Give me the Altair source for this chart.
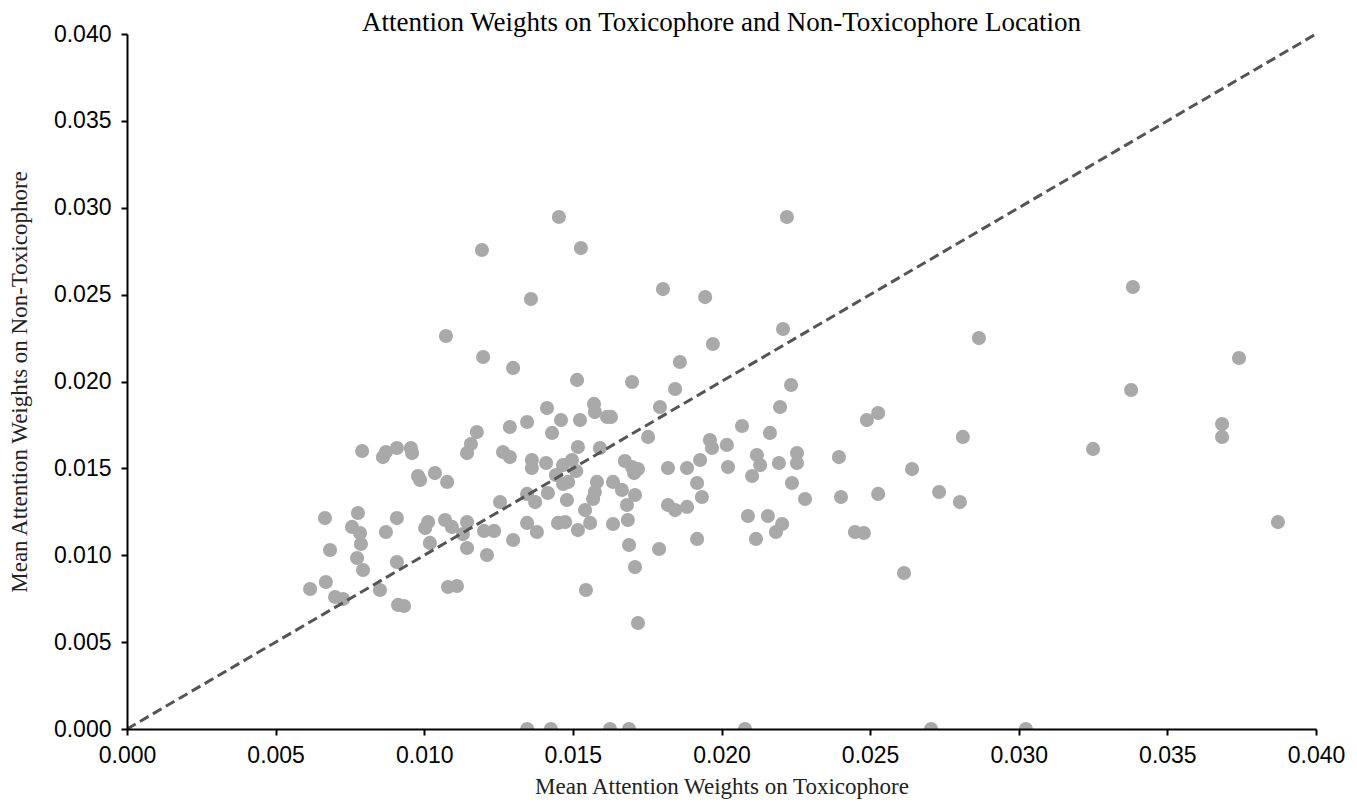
import altair as alt
import pandas as pd

# Mean attention weight on toxicophore atoms (x) and on non-toxicophore atoms (y)
tox = [
    0.01453, 0.02220, 0.01194, 0.01527, 0.01803, 0.01945, 0.01359, 0.03384, 0.01073, 0.01198,
    0.02207, 0.02866, 0.01971, 0.01860, 0.01299, 0.03741, 0.01514, 0.01699, 0.02234, 0.01844,
    0.03378, 0.01413, 0.01571, 0.01574, 0.01615, 0.01628, 0.01793, 0.02197, 0.02527, 0.02489,
    0.01524, 0.01460, 0.01346, 0.01288, 0.01177, 0.02069, 0.03684, 0.03684, 0.02812, 0.01430,
    0.01753, 0.02163, 0.01961, 0.01968, 0.02018, 0.01157, 0.01144, 0.00791, 0.00861, 0.00871,
    0.00908, 0.00955, 0.00959, 0.01265, 0.01288, 0.01517, 0.01591, 0.03250, 0.01362, 0.01362,
    0.01410, 0.01467, 0.01497, 0.01675, 0.01699, 0.01719, 0.01706, 0.01820, 0.01884, 0.01928,
    0.02022, 0.02119, 0.02130, 0.02103, 0.02193, 0.02254, 0.02254, 0.02395, 0.02641, 0.00979,
    0.00986, 0.01036, 0.01077, 0.01443, 0.01511, 0.01467, 0.01484, 0.01581, 0.01635, 0.01665,
    0.01574, 0.01568, 0.01709, 0.01682, 0.01346, 0.01373, 0.01416, 0.01480, 0.01541, 0.01255,
    0.01820, 0.01844, 0.01884, 0.01918, 0.01934, 0.02237, 0.02281, 0.02402, 0.02527, 0.02732,
    0.02802, 0.02089, 0.02156, 0.02204, 0.02183, 0.02116, 0.01918, 0.02449, 0.02479, 0.03872,
    0.00666, 0.00777, 0.00757, 0.00784, 0.00787, 0.00774, 0.00794, 0.00683, 0.00908, 0.00871,
    0.00908, 0.01013, 0.01003, 0.01019, 0.01070, 0.01093, 0.01144, 0.01130, 0.01144, 0.01201,
    0.01235, 0.01299, 0.01211, 0.01346, 0.01379, 0.01450, 0.01474, 0.01517, 0.01558, 0.01635,
    0.01685, 0.01689, 0.01709, 0.01790, 0.01544, 0.01719, 0.02614, 0.00616, 0.00669, 0.00700,
    0.00727, 0.00851, 0.00912, 0.00932, 0.01080, 0.01110,
    0.01346, 0.01426, 0.01625, 0.01689, 0.02079, 0.02705, 0.03024,
]
non_tox = [
    0.02947, 0.02947, 0.02757, 0.02768, 0.02532, 0.02486, 0.02475, 0.02544, 0.02262, 0.02141,
    0.02302, 0.02250, 0.02216, 0.02112, 0.02078, 0.02135, 0.02009, 0.01997, 0.01980, 0.01957,
    0.01951, 0.01847, 0.01871, 0.01824, 0.01796, 0.01796, 0.01853, 0.01853, 0.01819, 0.01778,
    0.01778, 0.01778, 0.01767, 0.01738, 0.01709, 0.01744, 0.01755, 0.01681, 0.01681, 0.01704,
    0.01681, 0.01704, 0.01663, 0.01617, 0.01635, 0.01640, 0.01588, 0.01600, 0.01565, 0.01594,
    0.01617, 0.01617, 0.01588, 0.01594, 0.01565, 0.01623, 0.01617, 0.01612, 0.01548, 0.01502,
    0.01531, 0.01519, 0.01548, 0.01542, 0.01508, 0.01496, 0.01473, 0.01502, 0.01502, 0.01548,
    0.01508, 0.01577, 0.01519, 0.01456, 0.01531, 0.01588, 0.01531, 0.01565, 0.01496, 0.01456,
    0.01433, 0.01473, 0.01422, 0.01462, 0.01485, 0.01410, 0.01422, 0.01422, 0.01422, 0.01376,
    0.01364, 0.01324, 0.01347, 0.01289, 0.01353, 0.01306, 0.01358, 0.01318, 0.01260, 0.01306,
    0.01289, 0.01260, 0.01278, 0.01416, 0.01335, 0.01416, 0.01324, 0.01335, 0.01353, 0.01364,
    0.01306, 0.01226, 0.01226, 0.01180, 0.01134, 0.01094, 0.01094, 0.01134, 0.01128, 0.01191,
    0.01214, 0.01243, 0.01163, 0.01128, 0.01065, 0.00984, 0.00915, 0.01030, 0.01214, 0.01134,
    0.00961, 0.01191, 0.01157, 0.01071, 0.01203, 0.01163, 0.01191, 0.01122, 0.01042, 0.01140,
    0.01140, 0.01088, 0.01001, 0.01186, 0.01134, 0.01186, 0.01191, 0.01145, 0.01186, 0.01180,
    0.01203, 0.01059, 0.00932, 0.01036, 0.00800, 0.00610, 0.00898, 0.00806, 0.00846, 0.00760,
    0.00748, 0.00800, 0.00714, 0.00708, 0.00817, 0.00823,
    0.0, 0.0, 0.0, 0.0, 0.0, 0.0, 0.0,
]

# reference diagonal y = x
diag_x = [0.0, 0.04]
diag_y = [0.0, 0.04]

tick_values = [0, 0.005, 0.01, 0.015, 0.02, 0.025, 0.03, 0.035, 0.04]
chart_title = ["Attention Weights on Toxicophore and Non-Toxicophore Location"]

points = pd.DataFrame({"tox": tox, "non_tox": non_tox})
diag = pd.DataFrame({"tox": diag_x, "non_tox": diag_y})
title_df = pd.DataFrame({"title": chart_title})

SANS = "Liberation Sans"
SERIF = "Liberation Serif"
W, H = 1189, 695

x_scale = alt.Scale(domain=[0, 0.04], nice=False, zero=True)
y_scale = alt.Scale(domain=[0, 0.04], nice=False, zero=True)

x_axis = alt.Axis(
    title="Mean Attention Weights on Toxicophore",
    values=tick_values,
    format=".3f", grid=False, zindex=1,
    domainColor="black", domainWidth=2, tickColor="black", tickWidth=2, tickSize=6,
    labelFont=SANS, labelFontSize=23, labelColor="black", labelPadding=9,
    labelFlush=False, labelOverlap=False,
    titleFont=SERIF, titleFontSize=23, titleFontWeight="normal", titleColor="#222",
    titlePadding=8,
)
y_axis = alt.Axis(
    title="Mean Attention Weights on Non-Toxicophore",
    values=tick_values,
    format=".3f", grid=False, zindex=1,
    domainColor="black", domainWidth=2, tickColor="black", tickWidth=2, tickSize=6,
    labelFont=SANS, labelFontSize=23, labelColor="black", labelPadding=10,
    labelFlush=False, labelOverlap=False,
    titleFont=SERIF, titleFontSize=23, titleFontWeight="normal", titleColor="#222",
    titlePadding=22,
)

pts = alt.Chart(points).mark_circle(
    size=200, color="#a9a9a9", opacity=1, clip=True
).encode(
    x=alt.X("tox:Q", scale=x_scale, axis=x_axis),
    y=alt.Y("non_tox:Q", scale=y_scale, axis=y_axis),
)

line = alt.Chart(diag).mark_line(
    color="#555555", strokeWidth=3, strokeDash=[10, 5]
).encode(
    x=alt.X("tox:Q", scale=x_scale),
    y=alt.Y("non_tox:Q", scale=y_scale),
)

title = alt.Chart(title_df).mark_text(
    font=SERIF, fontSize=27, color="black", align="center", baseline="alphabetic"
).encode(
    text="title:N",
    x=alt.value(W / 2),
    y=alt.value(-3),
)

chart = alt.layer(pts, line, title).properties(
    width=W,
    height=H,
    autosize=alt.AutoSizeParams(type="none"),
    padding={"left": 119, "top": 26, "right": 30, "bottom": 70},
).configure_view(stroke=None)

chart.save("out.html", embed_options={"renderer": "svg", "actions": False})
